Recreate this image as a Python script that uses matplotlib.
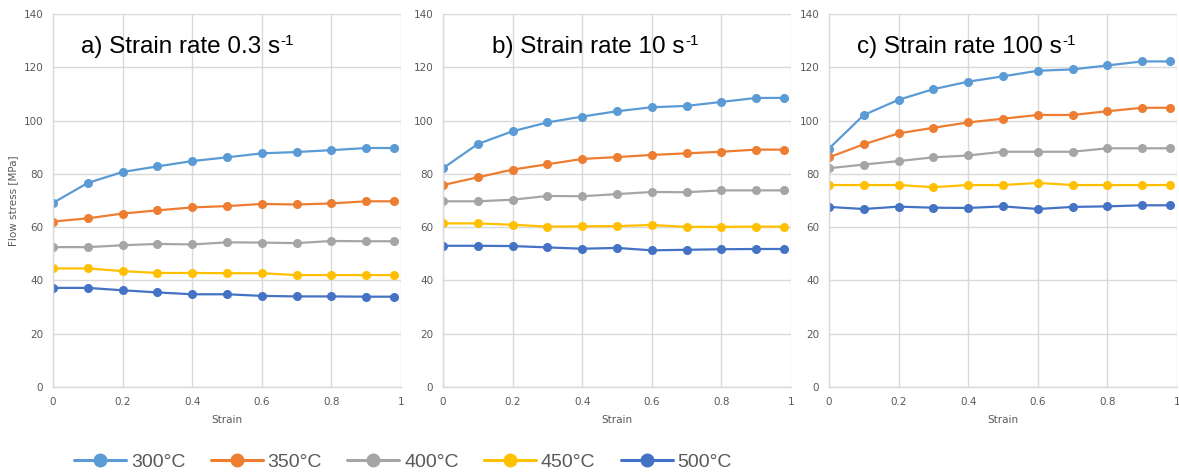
import matplotlib
matplotlib.use("Agg")
import matplotlib.pyplot as plt

strain = [0, 0.1, 0.2, 0.3, 0.4, 0.5, 0.6, 0.7, 0.8, 0.9, 0.98]
temps = ["300°C", "350°C", "400°C", "450°C", "500°C"]
colors = ["#5B9BD5", "#ED7D31", "#A5A5A5", "#FFC000", "#4472C4"]

# panel a) strain rate 0.3 1/s
a_300 = [69.1, 76.6, 80.7, 82.8, 84.8, 86.2, 87.7, 88.2, 88.9, 89.7, 89.7]
a_350 = [62.1, 63.3, 65.1, 66.3, 67.4, 67.9, 68.7, 68.5, 68.9, 69.7, 69.7]
a_400 = [52.5, 52.5, 53.2, 53.7, 53.5, 54.3, 54.2, 54.0, 54.8, 54.7, 54.7]
a_450 = [44.5, 44.5, 43.5, 42.8, 42.8, 42.7, 42.7, 42.0, 42.0, 42.0, 42.0]
a_500 = [37.2, 37.2, 36.3, 35.5, 34.8, 34.8, 34.2, 34.0, 34.0, 33.9, 33.9]

# panel b) strain rate 10 1/s
b_300 = [82.1, 91.2, 96.0, 99.3, 101.5, 103.5, 105.0, 105.5, 107.0, 108.5, 108.5]
b_350 = [75.8, 78.7, 81.6, 83.6, 85.6, 86.3, 87.1, 87.7, 88.3, 89.1, 89.1]
b_400 = [69.7, 69.7, 70.3, 71.7, 71.6, 72.4, 73.2, 73.1, 73.8, 73.8, 73.8]
b_450 = [61.4, 61.4, 60.9, 60.2, 60.3, 60.4, 60.8, 60.1, 60.1, 60.2, 60.2]
b_500 = [53.0, 53.0, 52.9, 52.4, 51.9, 52.2, 51.3, 51.5, 51.7, 51.8, 51.8]

# panel c) strain rate 100 1/s
c_300 = [89.5, 102.1, 107.8, 111.8, 114.6, 116.6, 118.7, 119.2, 120.7, 122.2, 122.2]
c_350 = [86.2, 91.1, 95.2, 97.3, 99.3, 100.7, 102.1, 102.1, 103.5, 104.8, 104.8]
c_400 = [82.1, 83.5, 84.8, 86.2, 86.9, 88.3, 88.3, 88.3, 89.6, 89.6, 89.6]
c_450 = [75.8, 75.8, 75.8, 75.0, 75.8, 75.8, 76.6, 75.8, 75.8, 75.8, 75.8]
c_500 = [67.6, 66.8, 67.7, 67.3, 67.2, 67.8, 66.8, 67.6, 67.8, 68.2, 68.2]

titles = ["a) Strain rate 0.3 s", "b) Strain rate 10 s", "c) Strain rate 100 s"]
title_sup = "-1"
title_x = [0.08, 0.141, 0.081]
panels = [
    [a_300, a_350, a_400, a_450, a_500],
    [b_300, b_350, b_400, b_450, b_500],
    [c_300, c_350, c_400, c_450, c_500],
]
xticks = [0, 0.2, 0.4, 0.6, 0.8, 1]
xticklabels = ["0", "0.2", "0.4", "0.6", "0.8", "1"]
yticks = [0, 20, 40, 60, 80, 100, 120, 140]

W, H = 1179, 474
fig = plt.figure(figsize=(W / 100, H / 100), dpi=100)
lefts = [53, 443, 829]
width = 348
top, bottom = 14, 387
grid_c = "#D9D9D9"
txt_c = "#595959"
title_font = ["Liberation Sans", "DejaVu Sans"]

handles = []
for i, (l, series) in enumerate(zip(lefts, panels)):
    ax = fig.add_axes([l / W, 1 - bottom / H, width / W, (bottom - top) / H])
    ax.set_xlim(0, 1)
    ax.set_ylim(0, 140)
    ax.set_xticks(xticks)
    ax.set_xticklabels(xticklabels)
    ax.set_yticks(yticks)
    ax.grid(True, color=grid_c, linewidth=1.0)
    ax.set_axisbelow(True)
    for s in ["top", "right"]:
        ax.spines[s].set_visible(False)
    for s in ["left", "bottom"]:
        ax.spines[s].set_color(grid_c)
        ax.spines[s].set_linewidth(1.0)
    ax.tick_params(length=0, labelsize=7.5, labelcolor=txt_c, pad=7)
    for vals, col, lab in zip(series, colors, temps):
        h, = ax.plot(strain, vals, color=col, linewidth=1.6, marker="o",
                     markersize=5.5, label=lab, solid_capstyle="round")
        if i == 0:
            handles.append(h)
    ax.set_xlabel("Strain", fontsize=7.5, color=txt_c, labelpad=6)
    t = ax.text(title_x[i], 127.5, titles[i], fontsize=17.5, va="center", ha="left",
                family=title_font, color="black")
    ax.annotate(title_sup, xy=(1, 1), xycoords=t, xytext=(0.3, 2.0),
                textcoords="offset points", fontsize=11, va="top", ha="left",
                family=title_font, color="black")
    if i == 0:
        ax.set_ylabel("Flow stress [MPa]", fontsize=7.5, color=txt_c)
        ax.yaxis.set_label_coords(-0.1, 0.5)

leg = fig.legend(handles=handles, labels=temps, loc="center", ncol=5,
                 bbox_to_anchor=(403 / W, 1 - 462 / H), frameon=False,
                 prop={"family": title_font, "size": 14},
                 handlelength=2.68, handletextpad=0.25, columnspacing=1.3)
for lh in leg.get_lines():
    lh.set_linewidth(2.2)
    lh.set_markersize(9)
for tx in leg.get_texts():
    tx.set_color(txt_c)

fig.savefig("out.png", dpi=100)
